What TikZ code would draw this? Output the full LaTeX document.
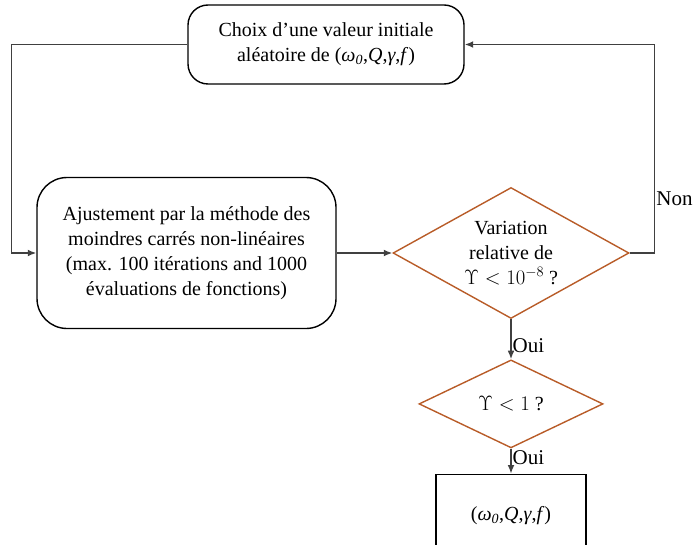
\documentclass[tikz,border=0pt]{standalone}
\usepackage{fontspec}
\setmainfont{Liberation Serif}
\usetikzlibrary{arrows.meta,positioning,shapes.geometric}
\definecolor{brownline}{RGB}{184,92,40}
\definecolor{wireline}{RGB}{64,64,64}

\begin{document}
\begin{tikzpicture}[
    x=1pt, y=-1pt,
    font=\fontsize{20}{25}\selectfont,
    box/.style={rectangle, draw=black, line width=1.4pt, rounded corners=20pt,
                align=center},
    choice/.style={diamond, draw=brownline, line width=1.4pt, inner sep=0pt,
                   align=center},
    arr/.style={-{Latex[length=3mm, width=2.4mm]}, line width=1.4pt, draw=wireline},
    lbl/.style={font=\fontsize{21}{25}\selectfont, inner sep=1pt}
]
    \clip (0,0) rectangle (700,545);

    \node[box, minimum width=276pt, minimum height=79pt] (init) at (326,44.5)
        {Choix d’une valeur initiale\\aléatoire de (\textit{ω}\textsubscript{\textit{0}},\textit{Q},\textit{γ},\textit{f})};
    \node[box, rounded corners=30pt, minimum width=299pt, minimum height=151pt] (fit) at (186.5,253)
        {Ajustement par la méthode des\\moindres carrés non-linéaires\\(max. 100 itérations and 1000\\évaluations de fonctions)};
    \node[choice, aspect=1.8, minimum width=236pt, minimum height=131pt] (var) at (511,253)
        {Variation\\relative de\\$\Upsilon < 10^{-8}$ ?};
    \node[choice, aspect=2.1, minimum width=184pt, minimum height=88pt, below=40pt of var] (chi)
        {$\Upsilon < 1$ ?};
    \node[box, rounded corners=0pt, minimum width=150pt, minimum height=82pt, below=25pt of chi] (res)
        {(\textit{ω}\textsubscript{\textit{0}},\textit{Q},\textit{γ},\textit{f})};

    \draw[arr] (init.west) -- ++(-176,0) |- (fit.west);
    \draw[arr] (fit.east) -- (var.west);
    \draw[arr] (var.east) -- ++(25,0) |- node[lbl, right, pos=0.13] {Non} (init.east);
    \draw[arr] (var.south) -- node[lbl, right, pos=0.65] {Oui} (chi.north);
    \draw[arr] (chi.south) -- node[lbl, right, pos=0.36] {Oui} (res.north);
\end{tikzpicture}
\end{document}
